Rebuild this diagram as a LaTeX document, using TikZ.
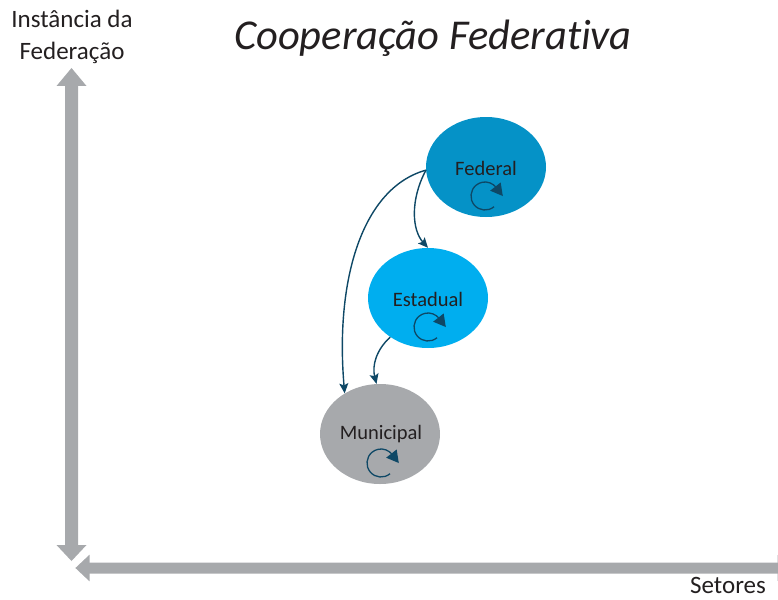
\documentclass[tikz,border=0pt]{standalone}
\usepackage{fontspec}
\setmainfont{Carlito}[Ligatures={NoCommon,NoContextual}]
\usetikzlibrary{shapes.geometric,arrows.meta}
\definecolor{axisgray}{RGB}{167,169,172}
\definecolor{fedblue}{RGB}{5,146,199}
\definecolor{estblue}{RGB}{0,174,239}
\definecolor{mungray}{RGB}{167,169,172}
\definecolor{arrowteal}{RGB}{14,72,102}
\definecolor{txt}{RGB}{35,31,32}
\tikzset{
  level/.style={ellipse, minimum width=120pt, minimum height=100pt, inner sep=0pt, draw=none, text=txt, font=\fontsize{20.5}{24}\selectfont},
  flow/.style={draw=arrowteal, line width=1.4pt, -{Stealth[length=10pt,width=9pt,inset=2pt]}},
  cycle/.style={draw=arrowteal, line width=1.3pt, shorten >=-11pt, -{Triangle[length=12pt,width=13pt]}},
  axislabel/.style={text=txt, font=\fontsize{25}{32}\selectfont, align=center, inner sep=0pt},
}
\begin{document}
\begin{tikzpicture}[x=1pt,y=1pt]
\useasboundingbox (0,0) rectangle (778,-599);
\clip (0,0) rectangle (778,-599);
% vertical axis
\fill[axisgray] (71.5,-68) -- (86.5,-86) -- (78,-86) -- (78,-545) -- (86.5,-545) -- (71.5,-561)
  -- (56.5,-545) -- (65,-545) -- (65,-86) -- (56.5,-86) -- cycle;
% horizontal axis
\filldraw[fill=axisgray, draw=white, line width=3pt, line join=miter]
  (73,-568) -- (91,-551) -- (91,-561) -- (776,-561) -- (776,-551) -- (794,-568)
  -- (776,-585) -- (776,-575) -- (91,-575) -- (91,-585) -- cycle;
% labels
\node[axislabel] (ylab) at (72,-37) {Instância da\\Federação};
\node[axislabel, anchor=base] (xlab) at (728,-593) {Setores};
\node[text=txt, font=\fontsize{42.5}{50}\selectfont\itshape, inner sep=0pt] (title) at (433,-38) {Cooperação Federativa};
% levels
\node[level, fill=fedblue] (fed) at (486,-167) {};
\node[level, fill=estblue] (est) at (428,-298) {};
\node[level, fill=mungray] (mun) at (380,-434) {};
\node[text=txt, font=\fontsize{20.5}{24}\selectfont, inner sep=0pt] (fedt) at (486,-168) {Federal};
\node[text=txt, font=\fontsize{20.5}{24}\selectfont, inner sep=0pt] (estt) at (428,-299) {Estadual};
\node[text=txt, font=\fontsize{20.5}{24}\selectfont, inner sep=0pt] (munt) at (381,-434) {Municipal};
% cycle arrows
\coordinate (fedc) at (485,-196);
\coordinate (estc) at (428,-327);
\coordinate (munc) at (381,-463);
\draw[cycle] (fedc) ++(-50:14) arc[start angle=-50, end angle=-322, radius=14];
\draw[cycle] (estc) ++(-50:14) arc[start angle=-50, end angle=-322, radius=14];
\draw[cycle] (munc) ++(-50:14) arc[start angle=-50, end angle=-322, radius=14];
% flows
\draw[flow] (fed.183) .. controls (410,-200) and (412,-230) .. (est.north);
\draw[flow] (fed.183) .. controls (362,-188) and (335,-280) .. (mun.131);
\draw[flow] (est.226) .. controls (376,-350) and (372,-366) .. (mun.94);
\end{tikzpicture}
\end{document}
